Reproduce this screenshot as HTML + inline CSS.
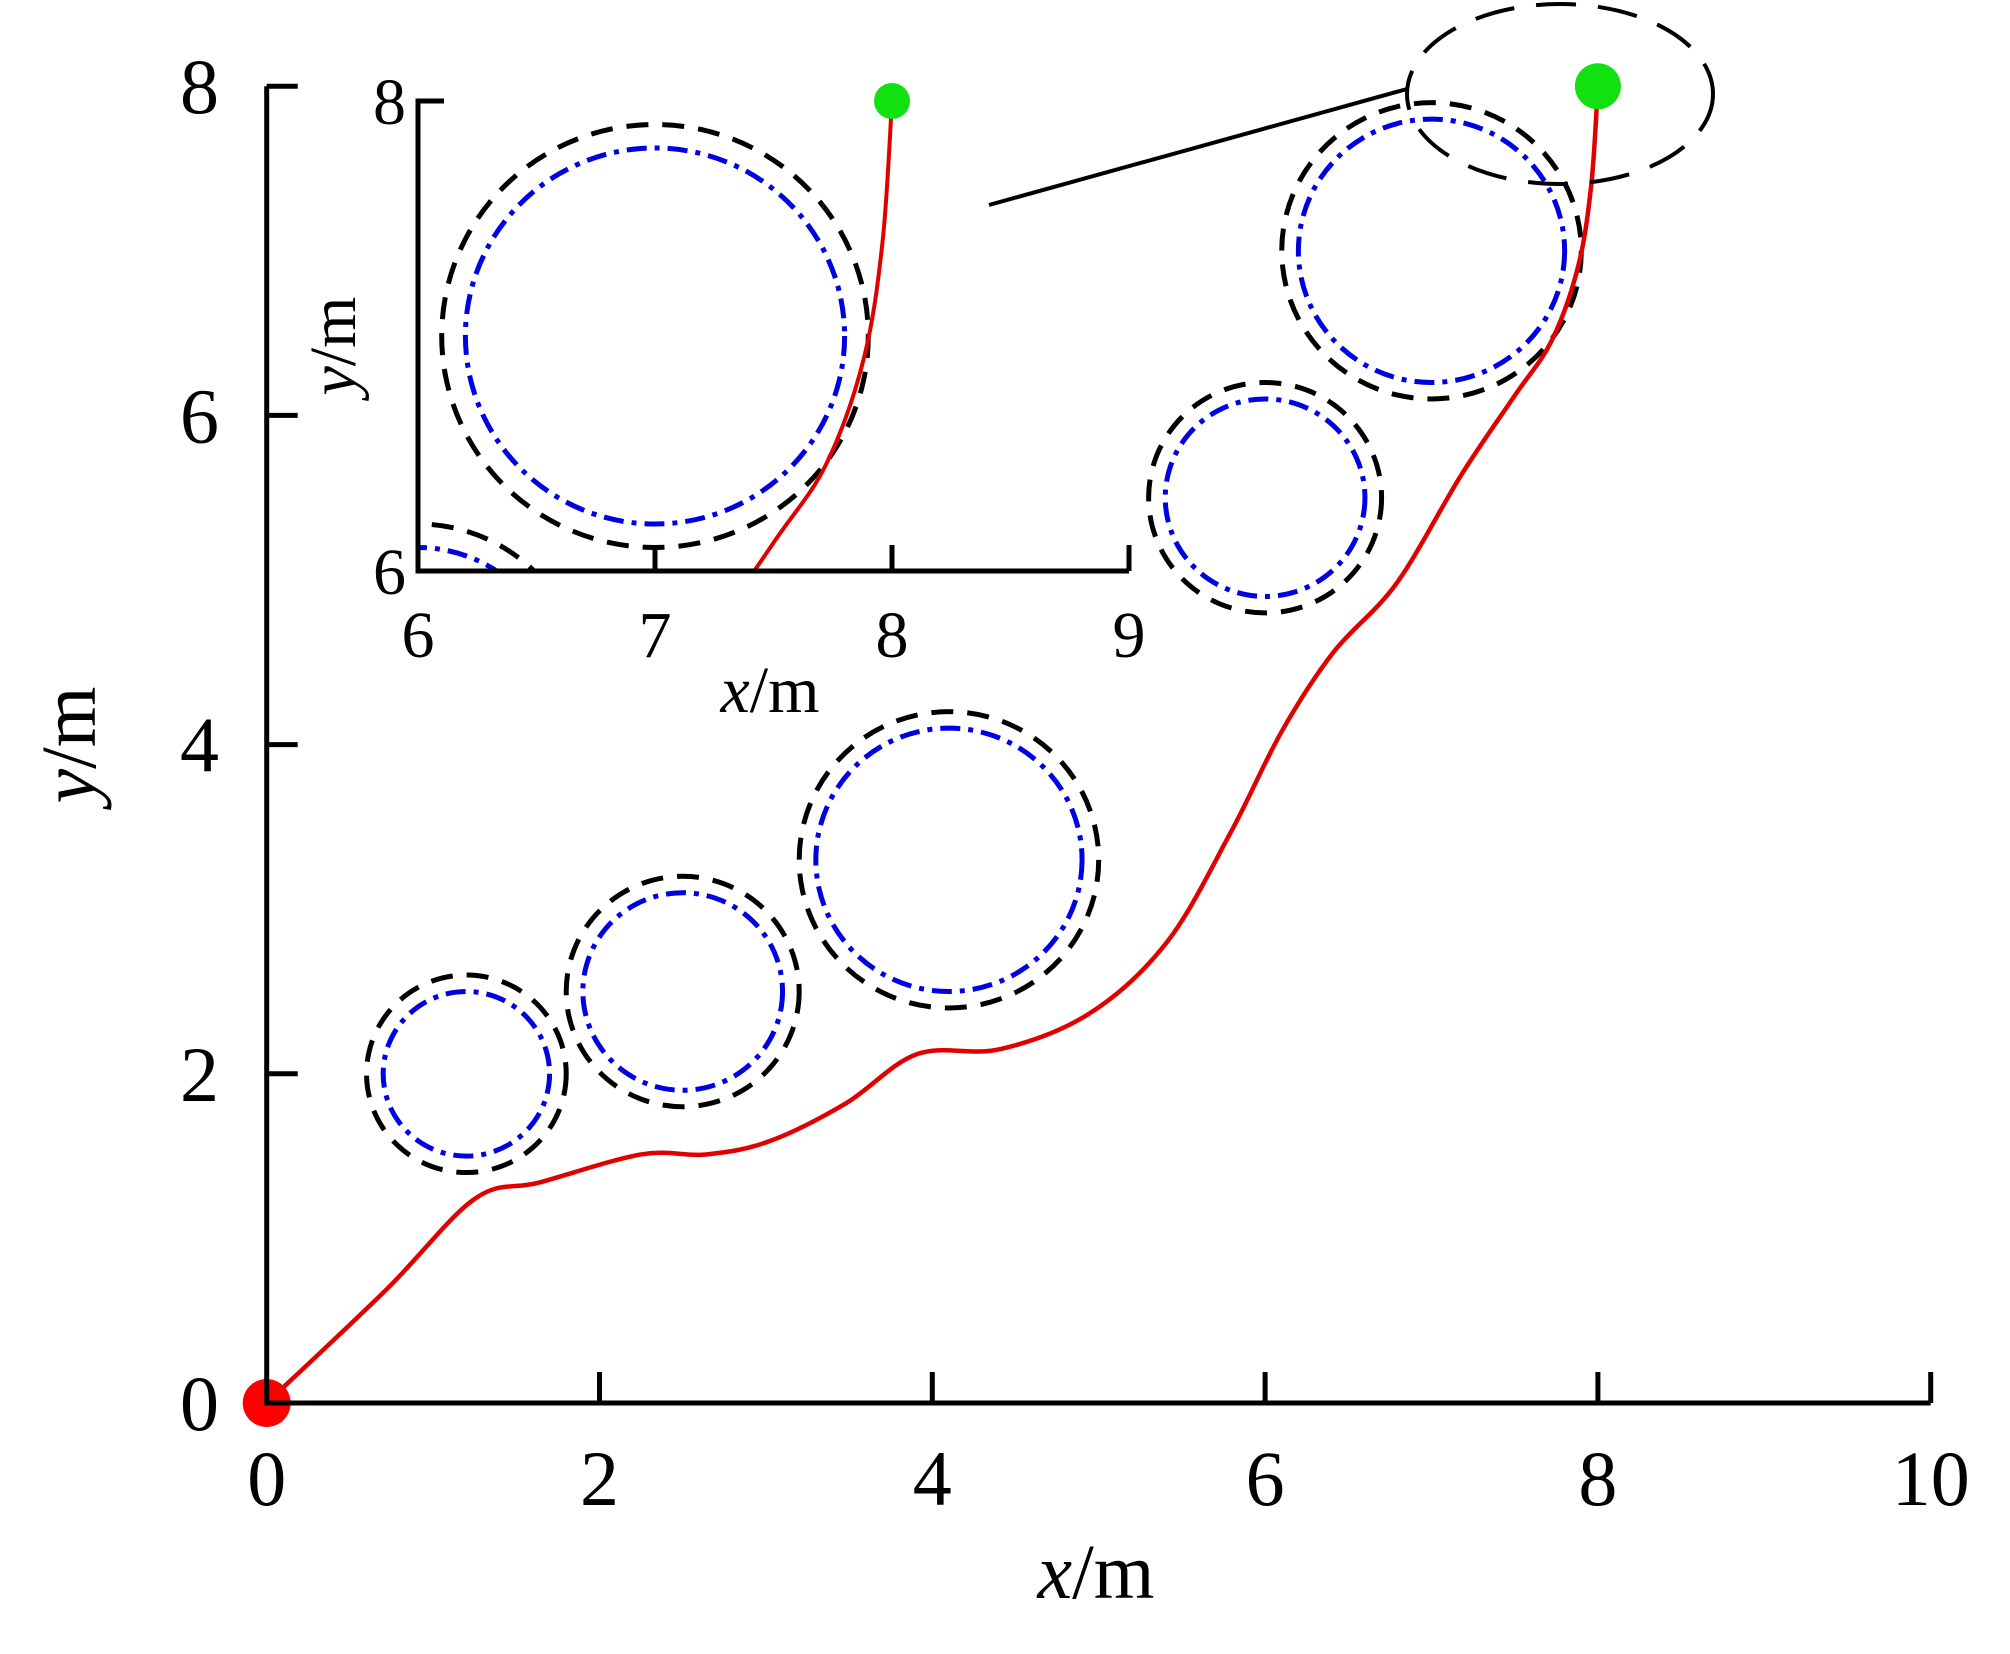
<!DOCTYPE html>
<html><head><meta charset="utf-8"><style>
html,body{margin:0;padding:0;background:#fff;width:2010px;height:1654px;overflow:hidden;}
svg{display:block;font-family:"Liberation Serif","Times New Roman",serif;}
</style></head><body>
<svg id="chart" width="2010" height="1654" viewBox="0 0 2010 1654" xmlns="http://www.w3.org/2000/svg">
<defs>
<clipPath id="insetClip"><rect x="418" y="60" width="712" height="511"/></clipPath>
</defs>
<g id="main"></g>
<g id="inset"></g>
<line x1="989" y1="205" x2="1407" y2="89" stroke="#000" stroke-width="4"/>
<ellipse cx="1560" cy="94" rx="153" ry="90" fill="none" stroke="#000" stroke-width="4" stroke-dasharray="40,22"/>
<text x="1096" y="1598" font-size="78" text-anchor="middle"><tspan font-style="italic">x</tspan>/m</text>
<text transform="translate(95,745) rotate(-90)" font-size="78" text-anchor="middle"><tspan font-style="italic">y</tspan>/m</text>
<text x="770" y="712" font-size="66" text-anchor="middle"><tspan font-style="italic">x</tspan>/m</text>
<text transform="translate(355,346) rotate(-90)" font-size="66" text-anchor="middle"><tspan font-style="italic">y</tspan>/m</text>
</svg>
<script>
// ---- data ----
const xTicks = [0, 2, 4, 6, 8, 10];
const yTicks = [0, 2, 4, 6, 8];
const insetXTicks = [6, 7, 8, 9];
const insetYTicks = [6, 8];
const obstacleX = [1.2, 2.5, 4.1, 6.0, 7.0];
const obstacleY = [2.0, 2.5, 3.3, 5.5, 7.0];
const obstacleR = [0.5, 0.6, 0.8, 0.6, 0.8];
const safetyR = [0.6, 0.7, 0.9, 0.7, 0.9];
const pathX = [0, 0.72, 1.25, 1.64, 2.25, 2.64, 3.02, 3.48, 3.91, 4.41, 4.95, 5.41, 5.79, 6.1, 6.41, 6.79, 7.18, 7.5, 7.72, 7.88, 7.96, 8.0];
const pathY = [0, 0.69, 1.24, 1.34, 1.51, 1.51, 1.59, 1.82, 2.12, 2.15, 2.37, 2.80, 3.46, 4.08, 4.56, 4.98, 5.64, 6.12, 6.45, 6.9, 7.4, 8.0];
const startPoint = [0, 0];
const goalPoint = [8, 8];

const NS = "http://www.w3.org/2000/svg";
function mk(tag, attrs, parent){const e=document.createElementNS(NS,tag);for(const k in attrs)e.setAttribute(k,attrs[k]);parent.appendChild(e);return e;}

const X = v => 266.7 + v * 166.4;
const Y = v => 1403 - v * 164.6;
const IX = v => 418 + (v - 6) * 237;
const IY = v => 571 - (v - 6) * 235;

function smoothPath(xs, ys, fx, fy){
  const p = xs.map((x,i)=>[fx(x), fy(ys[i])]);
  let d = "M" + p[0][0] + "," + p[0][1];
  for(let i=0;i<p.length-1;i++){
    const p0=p[i-1]||p[i], p1=p[i], p2=p[i+1], p3=p[i+2]||p2;
    const c1=[p1[0]+(p2[0]-p0[0])/6, p1[1]+(p2[1]-p0[1])/6];
    const c2=[p2[0]-(p3[0]-p1[0])/6, p2[1]-(p3[1]-p1[1])/6];
    d += " C"+c1[0]+","+c1[1]+" "+c2[0]+","+c2[1]+" "+p2[0]+","+p2[1];
  }
  return d;
}

function drawScene(g, fx, fy, unitX, unitY, dotR, lw){
  for(let i=0;i<obstacleX.length;i++){
    const s = mk("ellipse",{cx:fx(obstacleX[i]),cy:fy(obstacleY[i]),rx:safetyR[i]*unitX,ry:safetyR[i]*unitY,fill:"none",stroke:"#000","stroke-width":5,"stroke-dasharray":"22,14"},g);
    
    
    const o = mk("ellipse",{cx:fx(obstacleX[i]),cy:fy(obstacleY[i]),rx:obstacleR[i]*unitX,ry:obstacleR[i]*unitY,fill:"none",stroke:"#0000e0","stroke-width":5,"stroke-dasharray":"20,8,5,8"},g);
    
    
  }
  const pth = mk("path",{d:smoothPath(pathX,pathY,fx,fy),fill:"none",stroke:"#e00000","stroke-width":lw},g);
  
  
  const st = mk("circle",{cx:fx(startPoint[0]),cy:fy(startPoint[1]),r:dotR+1,fill:"#f00"},g);
  
  
  const gl = mk("circle",{cx:fx(goalPoint[0]),cy:fy(goalPoint[1]),r:dotR,fill:"#11e011"},g);
  
  
}

const main = document.getElementById("main");
drawScene(main, X, Y, 166.4, 164.6, 23, 4.5);
const ax = mk("path",{d:"M"+X(0)+","+Y(8)+" L"+X(0)+","+Y(0)+" L"+X(10)+","+Y(0),fill:"none",stroke:"#000","stroke-width":5},main);


xTicks.forEach(t=>{
  if(t>0){const l=mk("line",{x1:X(t),x2:X(t),y1:Y(0),y2:Y(0)-31,stroke:"#000","stroke-width":5},main);
  
  }
  const tx=mk("text",{x:X(t),y:1505,"font-size":78,"text-anchor":"middle"},main);
  tx.textContent=t;
  
  
});
yTicks.forEach(t=>{
  if(t>0){const l=mk("line",{x1:X(0),x2:X(0)+31,y1:Y(t),y2:Y(t),stroke:"#000","stroke-width":5},main);
  
  }
  const tx=mk("text",{x:219,y:Y(t)+27,"font-size":78,"text-anchor":"end"},main);
  tx.textContent=t;
  
  
});

const inset = document.getElementById("inset");
const ig = mk("g",{"clip-path":"url(#insetClip)"},inset);


drawScene(ig, IX, IY, 237, 235, 18, 4);
const iax = mk("path",{d:"M"+(IX(6)+26)+","+IY(8)+" L"+IX(6)+","+IY(8)+" L"+IX(6)+","+IY(6)+" L"+IX(9)+","+IY(6),fill:"none",stroke:"#000","stroke-width":5},inset);


insetXTicks.forEach(t=>{
  if(t>6){const l=mk("line",{x1:IX(t),x2:IX(t),y1:IY(6),y2:IY(6)-26,stroke:"#000","stroke-width":5},inset);
  
  }
  const tx=mk("text",{x:IX(t),y:657,"font-size":66,"text-anchor":"middle"},inset);
  tx.textContent=t;
  
  
});
insetYTicks.forEach(t=>{
  const tx=mk("text",{x:406,y:IY(t)+23,"font-size":66,"text-anchor":"end"},inset);
  tx.textContent=t;
  
  
});
</script>
</body></html>
